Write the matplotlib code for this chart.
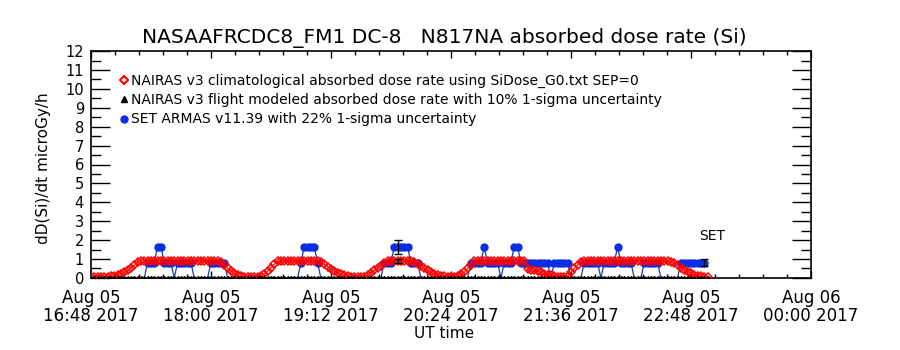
import numpy as np
import pandas as pd
import matplotlib
matplotlib.use('Agg')
import matplotlib.pyplot as plt
import matplotlib.ticker as ticker
from matplotlib.lines import Line2D

# start of the plotted window, all series sampled every 2 min from here
t0 = pd.Timestamp('2017-08-05 16:48')
step_min = 2

# NAIRAS v3 climatological absorbed dose rate (microGy/h)
nairas_clim = [
    0.03, 0.03, 0.04, 0.04, 0.05, 0.06, 0.08,
    0.12, 0.17, 0.22, 0.30, 0.40, 0.52, 0.66, 0.82,
    0.90, 0.90, 0.90, 0.90, 0.90, 0.90, 0.90, 0.90, 0.90, 0.90, 0.90, 0.90,
    0.90, 0.90, 0.90, 0.90, 0.90, 0.90, 0.90, 0.90, 0.90, 0.90, 0.90, 0.90,
    0.82, 0.68, 0.52, 0.38, 0.25, 0.14, 0.08, 0.05,
    0.04, 0.04, 0.04, 0.04,
    0.08, 0.20, 0.36, 0.55, 0.72, 0.87,
    0.90, 0.90, 0.90, 0.90, 0.90, 0.90, 0.90, 0.90, 0.90, 0.90, 0.90, 0.90,
    0.84, 0.72, 0.60, 0.48, 0.38, 0.28, 0.20, 0.13, 0.09, 0.06,
    0.04, 0.04, 0.04, 0.04,
    0.15, 0.28, 0.40, 0.52, 0.65, 0.78, 0.88,
    0.90, 0.90, 0.90, 0.90, 0.90, 0.90, 0.90,
    0.85, 0.74, 0.62, 0.50, 0.40, 0.30, 0.22, 0.16, 0.12, 0.09, 0.07, 0.05, 0.05,
    0.10, 0.20, 0.32, 0.50, 0.70, 0.88,
    0.90, 0.90, 0.90, 0.90, 0.90, 0.90, 0.90, 0.90, 0.90, 0.90, 0.90, 0.90,
    0.90, 0.90, 0.90,
    0.45, 0.42, 0.40, 0.38, 0.30, 0.20, 0.17, 0.14, 0.10, 0.07, 0.05, 0.06,
    0.10, 0.30, 0.50, 0.68, 0.85,
    0.90, 0.90, 0.90, 0.90, 0.90, 0.90, 0.90, 0.90, 0.90, 0.90, 0.90, 0.90,
    0.90, 0.90, 0.90, 0.90, 0.90, 0.90, 0.90, 0.90, 0.90, 0.90, 0.90, 0.90,
    0.90, 0.90,
    0.86, 0.78, 0.66, 0.54, 0.42, 0.32, 0.24, 0.17, 0.12, 0.08, 0.06, 0.04,
]

# SET ARMAS v11.39 absorbed dose rate (microGy/h)
armas = [
    0, 0, 0, 0, 0, 0, 0, 0, 0, 0, 0, 0, 0, 0, 0, 0,
    0,
    0.8, 0.8, 0.8,
    1.65, 1.65,
    0.8, 0.8, 0.8,
    0,
    0.8, 0.8, 0.8, 0.8, 0.8,
    0, 0, 0, 0, 0,
    0.8, 0.8, 0.8, 0.8, 0.8,
    0, 0, 0, 0, 0, 0, 0, 0, 0, 0, 0, 0, 0, 0, 0, 0, 0, 0, 0, 0, 0, 0,
    0.8,
    1.65, 1.65, 1.65, 1.65,
    0.8,
    0, 0, 0, 0, 0, 0, 0, 0, 0, 0, 0, 0, 0, 0, 0, 0, 0, 0, 0,
    0.8, 0.8, 0.8,
    1.65, 1.65, 1.65, 1.65, 1.65,
    0.8, 0.8, 0.8,
    0, 0, 0, 0, 0, 0, 0, 0, 0, 0, 0, 0, 0, 0, 0,
    0.8, 0.8, 0.8, 0.8,
    1.65,
    0.8, 0.8, 0.8, 0.8,
    0,
    0.8, 0.8, 0.8,
    1.65, 1.65,
    0.8, 0.8, 0.8, 0.8, 0.8, 0.8, 0.8, 0.8, 0.8,
    0,
    0.8, 0.8, 0.8, 0.8, 0.8,
    0, 0, 0, 0,
    0.8, 0.8, 0.8, 0.8, 0.8,
    0,
    0.8, 0.8, 0.8, 0.8,
    1.65,
    0.8, 0.8, 0.8, 0.8,
    0, 0, 0,
    0.8, 0.8, 0.8, 0.8, 0.8,
    0, 0, 0, 0, 0, 0,
    0.8, 0.8, 0.8, 0.8, 0.8, 0.8, 0.8, 0.8,
]

# NAIRAS v3 flight modeled values (all zero on this plot)
nairas_flight = np.zeros(len(nairas_clim))

armas_sigma = 0.22
nairas_sigma = 0.10
err_idx = 92      # sample shown with error bars mid flight 3

clim_t = t0 + pd.to_timedelta(step_min * np.arange(len(nairas_clim)), unit='min')
armas_t = t0 + pd.to_timedelta(step_min * np.arange(len(armas)), unit='min')
armas = np.array(armas)
nairas_clim = np.array(nairas_clim)

xticks = pd.date_range(t0, periods=7, freq='72min')
xminor = pd.date_range(t0, xticks[-1], freq='864s')
xlabels = [d.strftime('%b %d\n%H:%M %Y') for d in xticks]

red = '#ff0000'
blue = '#0a2de6'
blue_line = '#1a3cb0'

fig = plt.figure(figsize=(9, 3.5), dpi=100)
ax = fig.add_axes([0.101, 0.206, 0.800, 0.648])

# line through every sample, markers only where ARMAS reported a dose
ax.plot(armas_t, armas, '-', color=blue_line, lw=0.9, zorder=2)
on = armas > 0
ax.plot(armas_t[on], armas[on], 'o', ms=5, mfc=blue, mec=blue, zorder=2)
ax.plot(clim_t, nairas_clim, '-', color=red, lw=0.8, marker='D', ms=4,
        mfc='none', mec=red, mew=1.1, zorder=3)
ax.plot(clim_t, nairas_flight, '^', color='k', ms=3, zorder=4)

# 1-sigma uncertainty bars
ax.errorbar(armas_t[err_idx], armas[err_idx], yerr=armas_sigma * armas[err_idx],
            fmt='none', ecolor='k', elinewidth=1, capsize=3, zorder=5)
ax.errorbar(clim_t[err_idx], nairas_clim[err_idx], yerr=nairas_sigma * nairas_clim[err_idx],
            fmt='none', ecolor='k', elinewidth=1, capsize=3, zorder=5)
ax.errorbar(armas_t[-1], armas[-1], yerr=armas_sigma * armas[-1],
            fmt='none', ecolor='k', elinewidth=1, capsize=3, zorder=5)

ax.text(armas_t[-1] - pd.Timedelta(minutes=3), 2.2, 'SET', fontsize=10,
        ha='left', va='center')

ax.set_xlim(t0, xticks[-1])
ax.set_xticks(xticks)
ax.set_xticklabels(xlabels, fontsize=12, linespacing=1.0)
ax.set_xticks(xminor, minor=True)
ax.set_ylim(0, 12)
ax.yaxis.set_major_locator(ticker.MultipleLocator(1))
ax.yaxis.set_minor_locator(ticker.MultipleLocator(0.5))
ax.tick_params(axis='y', which='major', direction='in', length=14, width=1,
               labelsize=10.5, right=True, pad=5)
ax.tick_params(axis='y', which='minor', direction='in', length=7, width=1, right=True)
ax.tick_params(axis='x', which='major', direction='in', length=5, width=1, top=True, pad=8)
ax.tick_params(axis='x', which='minor', direction='in', length=3, width=1, top=True)
for s in ax.spines.values():
    s.set_linewidth(1.2)

ax.set_ylabel('dD(Si)/dt microGy/h', fontsize=11)
ax.yaxis.set_label_coords(-0.056, 0.485)
ax.set_xlabel('UT time', fontsize=11)
ax.xaxis.set_label_coords(0.49, -0.21)

fig.text(0.494, 0.891, 'NASAAFRCDC8_FM1 DC-8   N817NA absorbed dose rate (Si)',
         fontsize=14.5, ha='center', va='center')

handles = [
    Line2D([], [], ls='none', marker='D', ms=4, mfc='white', mec=red, mew=1.5),
    Line2D([], [], ls='none', marker='^', ms=4.5, mfc='k', mec='k'),
    Line2D([], [], ls='none', marker='o', ms=5, mfc=blue, mec=blue),
]
labels = [
    'NAIRAS v3 climatological absorbed dose rate using SiDose_G0.txt SEP=0',
    'NAIRAS v3 flight modeled absorbed dose rate with 10% 1-sigma uncertainty',
    'SET ARMAS v11.39 with 22% 1-sigma uncertainty',
]
ax.legend(handles, labels, loc='upper left', bbox_to_anchor=(0.041, 0.9),
          frameon=False, fontsize=10, handlelength=0.5, handletextpad=0.25,
          labelspacing=0.38, borderpad=0, borderaxespad=0)

fig.savefig('out.png', dpi=100)
